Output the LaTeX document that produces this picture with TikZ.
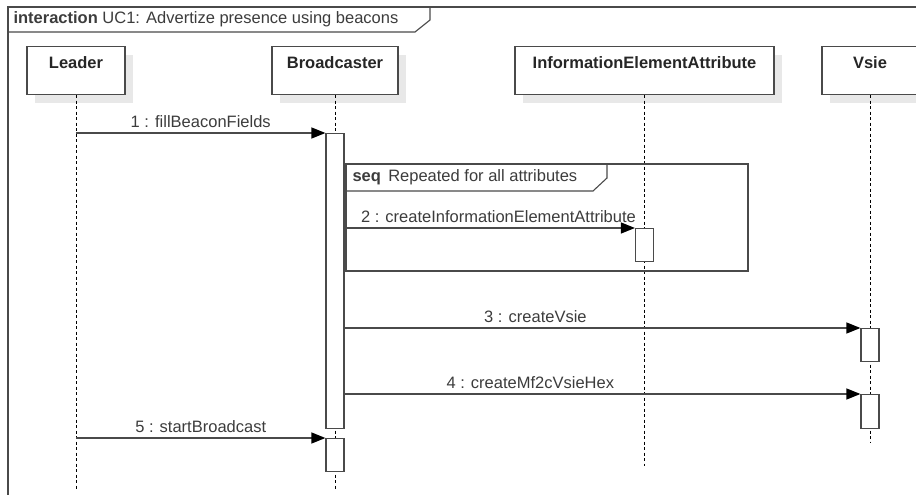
\documentclass[tikz,border=0pt]{standalone}
\usepackage{fontspec}
\setmainfont{Liberation Sans}
\usetikzlibrary{
    arrows.meta,
    shadows,
    positioning
}

\definecolor{seqline}{HTML}{4A4A4A}
\definecolor{seqtext}{HTML}{3C3C3C}
\definecolor{seqshade}{HTML}{E8E8E8}

\tikzset{
    txt/.style={font=\fontsize{16.5}{19}\selectfont, text=seqtext},
    head/.style={draw=seqline, line width=1.2pt, fill=white, anchor=north,
        minimum height=48pt, text height=19pt, text depth=23pt,
        inner ysep=3pt, inner xsep=0pt, text=black!85,
        font=\fontsize{16.5}{19}\selectfont\bfseries,
        drop shadow={shadow xshift=8pt, shadow yshift=-8pt, fill=seqshade, opacity=1}},
    act/.style={draw=seqline, line width=1.2pt, fill=white, anchor=north,
        minimum width=18pt, inner sep=0pt},
    life/.style={draw=black, line width=1pt, dash pattern=on 3pt off 2.5pt},
    msg/.style={draw=seqline, line width=1.3pt,
        -{Triangle[length=14pt, width=11pt, color=black]}},
    msglabel/.style={txt, above, text depth=0pt, yshift=2pt},
    frameline/.style={draw=seqline, line width=1.1pt}
}

\begin{document}
\begin{tikzpicture}[x=1pt, y=-1pt]
    \useasboundingbox (0,0) rectangle (916,495);
    % interaction frame
    \draw[frameline] (8,495) -- (8,7) -- (916,7);
    \draw[frameline] (8,32) -- (415,32) -- (430,20) -- (430,7);
    \node[txt, anchor=west] (ftitle) at (10,19.5) {\textbf{interaction} UC1: Advertize presence using beacons};
    % lifeline heads
    \node[head, minimum width=98pt] (leader) at (76,46) {Leader};
    \node[head, minimum width=126pt] (brd) at (335,46) {Broadcaster};
    \node[head, minimum width=259pt] (iea) at (644.5,46) {InformationElementAttribute};
    \node[head, minimum width=96pt] (vsie) at (870,46) {Vsie};
    \coordinate (leaderEnd) at (76,490);
    \coordinate (brdEnd) at (335,490);
    \coordinate (ieaEnd) at (644.5,466);
    \coordinate (vsieEnd) at (870,443);
    \draw[life] (leader.south) -- (leaderEnd);
    \draw[life] (brd.south) -- (brdEnd);
    \draw[life] (iea.south) -- (ieaEnd);
    \draw[life] (vsie.south) -- (vsieEnd);
    % activations
    \node[act, minimum height=295pt] (brd1) at (335,133) {};
    \node[act, minimum height=33pt] (iea1) at (644.5,228) {};
    \node[act, minimum height=33pt] (vsie1) at (870,328) {};
    \node[act, minimum height=34pt] (vsie2) at (870,394) {};
    \node[act, minimum height=33pt] (brd2) at (335,438) {};
    % seq fragment
    \draw[frameline] (346,164) rectangle (748,271);
    \draw[frameline] (346,191) -- (593,191) -- (607,178) -- (607,164);
    \node[txt, anchor=west] (stitle) at (349,177.5) {\textbf{seq}\, Repeated for all attributes};
    % messages
    \draw[msg] (leader.south |- brd1.north) -- node[msglabel, pos=.5] {1 : fillBeaconFields} (brd1.north west);
    \draw[msg] (brd1.east |- iea1.north) -- node[msglabel, pos=.53] {2 : createInformationElementAttribute} (iea1.north west);
    \draw[msg] (brd1.east |- vsie1.north) -- node[msglabel, pos=.37] {3 : createVsie} (vsie1.north west);
    \draw[msg] (brd1.east |- vsie2.north) -- node[msglabel, pos=.36] {4 : createMf2cVsieHex} (vsie2.north west);
    \draw[msg] (leader.south |- brd2.north) -- node[msglabel, pos=.5] {5 : startBroadcast} (brd2.north west);
\end{tikzpicture}
\end{document}
